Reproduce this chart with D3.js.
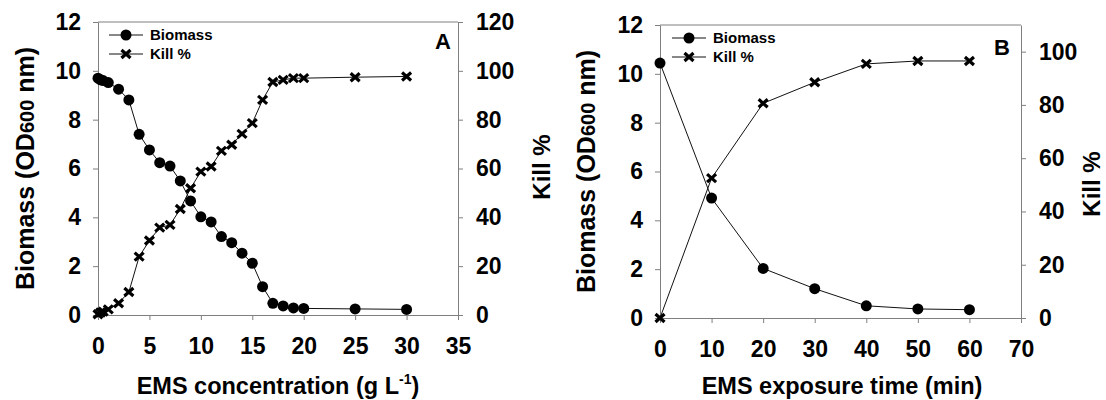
<!DOCTYPE html>
<html>
<head>
<meta charset="utf-8">
<title>EMS mutagenesis: biomass and kill %</title>
<script src="https://d3js.org/d3.v7.min.js"></script>
<style>
    body { margin: 0; background: #fff; }
    svg { display: block; }
    text { font-family: "Liberation Sans", Arial, sans-serif; font-weight: bold; fill: #000; }
    .axis path, .axis line { stroke: #7f7f7f; stroke-width: 1; }
    .axis text { font-size: 23px; }
</style>
</head>
<body>
<div id="chart"></div>
<script>
    // panel A: EMS concentration (g/L)
    var concA = [0, 0.25, 0.5, 1, 2, 3, 4, 5, 6, 7, 8, 9, 10, 11, 12, 13, 14, 15, 16, 17, 18, 19, 20, 25, 30];
    var biomassA = [9.7, 9.63, 9.6, 9.52, 9.25, 8.81, 7.4, 6.76, 6.24, 6.1, 5.49, 4.67, 4.02, 3.81, 3.21, 2.96, 2.53, 2.12, 1.16, 0.48, 0.37, 0.29, 0.27, 0.25, 0.23];
    var killA = [0.3, 1, 1.4, 2.3, 4.8, 9.4, 23.9, 30.5, 35.8, 36.9, 43.4, 51.9, 58.7, 60.8, 67.2, 69.7, 74.2, 78.6, 88.1, 95.4, 96.3, 97, 97, 97.4, 97.7];

    // panel B: EMS exposure time (min)
    var timeB = [0, 10, 20, 30, 40, 50, 60];
    var biomassB = [10.44, 4.91, 2.03, 1.2, 0.5, 0.37, 0.34];
    var killB = [0, 52.5, 80.6, 88.5, 95.4, 96.5, 96.5];

    var xTicksA = [0, 5, 10, 15, 20, 25, 30, 35];
    var xTicksB = [0, 10, 20, 30, 40, 50, 60, 70];
    var biomassTicks = [0, 2, 4, 6, 8, 10, 12];
    var killTicksA = [0, 20, 40, 60, 80, 100, 120];
    var killTicksB = [0, 20, 40, 60, 80, 100];

    var svg = d3.select("#chart").append("svg")
        .attr("width", 1106)
        .attr("height", 400);

    function panel(p) {
        var x = d3.scaleLinear().domain(p.xDomain).range([p.left, p.right]);
        var yL = d3.scaleLinear().domain([0, 12]).range([p.bottom, p.top]);
        var yR = d3.scaleLinear().domain(p.killDomain).range([p.bottom, p.top]);

        var g = svg.append("g");

        // top frame line
        g.append("line")
            .attr("x1", p.left).attr("x2", p.right)
            .attr("y1", p.top).attr("y2", p.top)
            .attr("stroke", "#7f7f7f");

        g.append("g").attr("class", "axis")
            .attr("transform", "translate(0," + p.bottom + ")")
            .call(d3.axisBottom(x).tickValues(p.xTicks).tickSize(5).tickSizeOuter(0).tickPadding(18));

        g.append("g").attr("class", "axis")
            .attr("transform", "translate(" + p.left + ",0)")
            .call(d3.axisLeft(yL).tickValues(biomassTicks).tickSize(5).tickSizeOuter(0).tickPadding(12));

        g.append("g").attr("class", "axis")
            .attr("transform", "translate(" + p.right + ",0)")
            .call(d3.axisRight(yR).tickValues(p.killTicks).tickSize(5).tickSizeOuter(0).tickPadding(13));

        g.selectAll(".axis .domain").attr("stroke", "#7f7f7f");

        var bio = p.xs.map(function (d, i) { return [d, p.biomass[i]]; });
        var kill = p.xs.map(function (d, i) { return [d, p.kill[i]]; });

        g.append("path")
            .datum(bio)
            .attr("fill", "none").attr("stroke", "#111").attr("stroke-width", 1)
            .attr("d", d3.line().x(function (d) { return x(d[0]); }).y(function (d) { return yL(d[1]); }));

        g.append("path")
            .datum(kill)
            .attr("fill", "none").attr("stroke", "#111").attr("stroke-width", 1)
            .attr("d", d3.line().x(function (d) { return x(d[0]); }).y(function (d) { return yR(d[1]); }));

        g.selectAll(".dot").data(bio).enter()
            .append("circle")
            .attr("cx", function (d) { return x(d[0]); })
            .attr("cy", function (d) { return yL(d[1]); })
            .attr("r", 5.5)
            .attr("fill", "#000");

        var cross = "M-4.5,-4L4.5,4M-4.5,4L4.5,-4";
        g.selectAll(".cross").data(kill).enter()
            .append("path")
            .attr("d", cross)
            .attr("transform", function (d) { return "translate(" + x(d[0]) + "," + yR(d[1]) + ")"; })
            .attr("stroke", "#000").attr("stroke-width", 3.2).attr("fill", "none");

        // legend
        var lg = g.append("g").attr("transform", "translate(" + p.legX + "," + p.legY + ")");
        lg.append("line").attr("x1", 0).attr("x2", 34).attr("y1", 0).attr("y2", 0).attr("stroke", "#111");
        lg.append("circle").attr("cx", 17).attr("cy", 0).attr("r", 5.5).attr("fill", "#000");
        lg.append("text").attr("x", 41).attr("y", 5).style("font-size", "15px").text("Biomass");
        lg.append("line").attr("x1", 0).attr("x2", 34).attr("y1", 19).attr("y2", 19).attr("stroke", "#111");
        lg.append("path").attr("d", cross).attr("transform", "translate(17,19)")
            .attr("stroke", "#000").attr("stroke-width", 3.2);
        lg.append("text").attr("x", 41).attr("y", 24).style("font-size", "15px").text("Kill %");

        // panel letter
        g.append("text")
            .attr("x", p.letterX).attr("y", p.letterY)
            .attr("text-anchor", "end")
            .style("font-size", "22px")
            .text(p.letter);

        // axis titles
        var yt = g.append("text")
            .attr("transform", "translate(" + p.yTitleX + "," + ((p.top + p.bottom) / 2) + ") rotate(-90)")
            .attr("text-anchor", "middle")
            .style("font-size", "25px");
        yt.append("tspan").text("Biomass (OD");
        yt.append("tspan").style("font-size", "20px").text("600");
        yt.append("tspan").text(" nm)");

        g.append("text")
            .attr("transform", "translate(" + p.killTitleX + "," + p.killTitleY + ") rotate(-90)")
            .attr("text-anchor", "middle")
            .style("font-size", "24px")
            .text("Kill %");

        var xt = g.append("text")
            .attr("x", p.xTitleX).attr("y", 394)
            .attr("text-anchor", "middle")
            .style("font-size", "23.5px");
        xt.append("tspan").text(p.xTitle);
        if (p.sup) {
            xt.append("tspan").attr("dy", -10).style("font-size", "14px").text(p.sup);
            xt.append("tspan").attr("dy", 10).text(")");
        }
    }

    panel({
        left: 98, right: 458, top: 22, bottom: 315,
        xDomain: [0, 35], killDomain: [0, 120],
        xTicks: xTicksA, killTicks: killTicksA,
        xs: concA, biomass: biomassA, kill: killA,
        legX: 109, legY: 35,
        letter: "A", letterX: 451, letterY: 49,
        yTitleX: 34, killTitleX: 550, killTitleY: 167,
        xTitleX: 278, xTitle: "EMS concentration (g L", sup: "-1"
    });

    panel({
        left: 660, right: 1021, top: 25, bottom: 318,
        xDomain: [0, 70], killDomain: [0, 110],
        xTicks: xTicksB, killTicks: killTicksB,
        xs: timeB, biomass: biomassB, kill: killB,
        legX: 672, legY: 38,
        letter: "B", letterX: 1010, letterY: 55,
        yTitleX: 595, killTitleX: 1100, killTitleY: 184,
        xTitleX: 842, xTitle: "EMS exposure time (min)", sup: null
    });
</script>
</body>
</html>
